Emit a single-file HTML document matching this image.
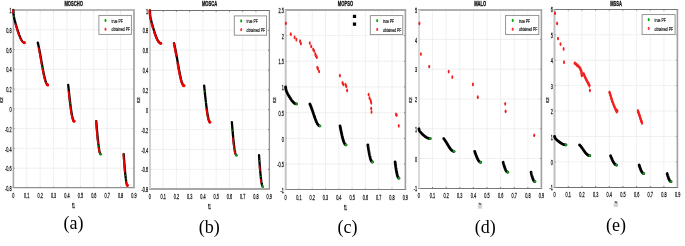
<!DOCTYPE html><html><head><meta charset="utf-8"><style>html,body{margin:0;padding:0;background:#fff;overflow:hidden}svg{display:block;will-change:transform}</style></head><body>
<svg width="685" height="246" viewBox="0 0 685 246">
<rect width="685" height="246" fill="#fff"/>
<path d="M26.76 9.95V188.00M40.16 9.95V188.00M53.57 9.95V188.00M66.97 9.95V188.00M80.38 9.95V188.00M93.78 9.95V188.00M107.19 9.95V188.00M120.59 9.95V188.00M13.35 29.73H134.00M13.35 49.52H134.00M13.35 69.30H134.00M13.35 89.08H134.00M13.35 108.87H134.00M13.35 128.65H134.00M13.35 148.43H134.00M13.35 168.22H134.00" stroke="#ececec" stroke-width="0.8" fill="none"/>
<path d="M26.76 9.95v1.2M26.76 188.00v-1.2M40.16 9.95v1.2M40.16 188.00v-1.2M53.57 9.95v1.2M53.57 188.00v-1.2M66.97 9.95v1.2M66.97 188.00v-1.2M80.38 9.95v1.2M80.38 188.00v-1.2M93.78 9.95v1.2M93.78 188.00v-1.2M107.19 9.95v1.2M107.19 188.00v-1.2M120.59 9.95v1.2M120.59 188.00v-1.2M13.35 29.73h1.2M134.00 29.73h-1.2M13.35 49.52h1.2M134.00 49.52h-1.2M13.35 69.30h1.2M134.00 69.30h-1.2M13.35 89.08h1.2M134.00 89.08h-1.2M13.35 108.87h1.2M134.00 108.87h-1.2M13.35 128.65h1.2M134.00 128.65h-1.2M13.35 148.43h1.2M134.00 148.43h-1.2M13.35 168.22h1.2M134.00 168.22h-1.2" stroke="#333" stroke-width="0.7" fill="none"/>
<path d="M12.60 10.00H135.00" stroke="#b8b8b8" stroke-width="2"/>
<path d="M12.60 187.60H135.00" stroke="#909090" stroke-width="1.3"/>
<path d="M13.40 10.00V187.60" stroke="#a8a8a8" stroke-width="1.6"/>
<path d="M134.00 10.00V187.60" stroke="#b0b0b0" stroke-width="2"/>
<text transform="translate(13.35,198.10) scale(0.51,1)" font-family="Liberation Sans, sans-serif" font-size="7.5" font-weight="normal" text-anchor="middle" fill="#222" stroke="#222" stroke-width="0.3">0</text>
<text transform="translate(26.76,198.10) scale(0.51,1)" font-family="Liberation Sans, sans-serif" font-size="7.5" font-weight="normal" text-anchor="middle" fill="#222" stroke="#222" stroke-width="0.3">0.1</text>
<text transform="translate(40.16,198.10) scale(0.51,1)" font-family="Liberation Sans, sans-serif" font-size="7.5" font-weight="normal" text-anchor="middle" fill="#222" stroke="#222" stroke-width="0.3">0.2</text>
<text transform="translate(53.57,198.10) scale(0.51,1)" font-family="Liberation Sans, sans-serif" font-size="7.5" font-weight="normal" text-anchor="middle" fill="#222" stroke="#222" stroke-width="0.3">0.3</text>
<text transform="translate(66.97,198.10) scale(0.51,1)" font-family="Liberation Sans, sans-serif" font-size="7.5" font-weight="normal" text-anchor="middle" fill="#222" stroke="#222" stroke-width="0.3">0.4</text>
<text transform="translate(80.38,198.10) scale(0.51,1)" font-family="Liberation Sans, sans-serif" font-size="7.5" font-weight="normal" text-anchor="middle" fill="#222" stroke="#222" stroke-width="0.3">0.5</text>
<text transform="translate(93.78,198.10) scale(0.51,1)" font-family="Liberation Sans, sans-serif" font-size="7.5" font-weight="normal" text-anchor="middle" fill="#222" stroke="#222" stroke-width="0.3">0.6</text>
<text transform="translate(107.19,198.10) scale(0.51,1)" font-family="Liberation Sans, sans-serif" font-size="7.5" font-weight="normal" text-anchor="middle" fill="#222" stroke="#222" stroke-width="0.3">0.7</text>
<text transform="translate(120.59,198.10) scale(0.51,1)" font-family="Liberation Sans, sans-serif" font-size="7.5" font-weight="normal" text-anchor="middle" fill="#222" stroke="#222" stroke-width="0.3">0.8</text>
<text transform="translate(134.00,198.10) scale(0.51,1)" font-family="Liberation Sans, sans-serif" font-size="7.5" font-weight="normal" text-anchor="middle" fill="#222" stroke="#222" stroke-width="0.3">0.9</text>
<text transform="translate(11.55,13.05) scale(0.51,1)" font-family="Liberation Sans, sans-serif" font-size="7.5" font-weight="normal" text-anchor="end" fill="#222" stroke="#222" stroke-width="0.3">1</text>
<text transform="translate(11.55,32.83) scale(0.51,1)" font-family="Liberation Sans, sans-serif" font-size="7.5" font-weight="normal" text-anchor="end" fill="#222" stroke="#222" stroke-width="0.3">0.8</text>
<text transform="translate(11.55,52.62) scale(0.51,1)" font-family="Liberation Sans, sans-serif" font-size="7.5" font-weight="normal" text-anchor="end" fill="#222" stroke="#222" stroke-width="0.3">0.6</text>
<text transform="translate(11.55,72.40) scale(0.51,1)" font-family="Liberation Sans, sans-serif" font-size="7.5" font-weight="normal" text-anchor="end" fill="#222" stroke="#222" stroke-width="0.3">0.4</text>
<text transform="translate(11.55,92.18) scale(0.51,1)" font-family="Liberation Sans, sans-serif" font-size="7.5" font-weight="normal" text-anchor="end" fill="#222" stroke="#222" stroke-width="0.3">0.2</text>
<text transform="translate(11.55,111.97) scale(0.51,1)" font-family="Liberation Sans, sans-serif" font-size="7.5" font-weight="normal" text-anchor="end" fill="#222" stroke="#222" stroke-width="0.3">0</text>
<text transform="translate(11.55,131.75) scale(0.51,1)" font-family="Liberation Sans, sans-serif" font-size="7.5" font-weight="normal" text-anchor="end" fill="#222" stroke="#222" stroke-width="0.3">-0.2</text>
<text transform="translate(11.55,151.53) scale(0.51,1)" font-family="Liberation Sans, sans-serif" font-size="7.5" font-weight="normal" text-anchor="end" fill="#222" stroke="#222" stroke-width="0.3">-0.4</text>
<text transform="translate(11.55,171.32) scale(0.51,1)" font-family="Liberation Sans, sans-serif" font-size="7.5" font-weight="normal" text-anchor="end" fill="#222" stroke="#222" stroke-width="0.3">-0.6</text>
<text transform="translate(11.55,191.10) scale(0.51,1)" font-family="Liberation Sans, sans-serif" font-size="7.5" font-weight="normal" text-anchor="end" fill="#222" stroke="#222" stroke-width="0.3">-0.8</text>
<text transform="translate(73.67,5.90) scale(0.54,1)" font-family="Liberation Sans, sans-serif" font-size="7.6" font-weight="bold" text-anchor="middle" fill="#111" stroke="#111" stroke-width="0.35">MOSCHO</text>
<text transform="translate(73.40,207.90) scale(0.42,1)" font-family="Liberation Sans, sans-serif" font-size="7.8" font-weight="normal" text-anchor="middle" fill="#222" stroke="#222" stroke-width="0.4">f1</text>
<text transform="translate(3.20,100.00) rotate(-90) scale(1,0.62)" font-family="Liberation Sans, sans-serif" font-size="7.0" font-weight="normal" text-anchor="middle" fill="#333" stroke="#333" stroke-width="0.35">f2</text>
<path d="M163.16 10.45V189.20M176.41 10.45V189.20M189.67 10.45V189.20M202.92 10.45V189.20M216.18 10.45V189.20M229.43 10.45V189.20M242.69 10.45V189.20M255.94 10.45V189.20M149.90 30.31H269.20M149.90 50.17H269.20M149.90 70.03H269.20M149.90 89.89H269.20M149.90 109.76H269.20M149.90 129.62H269.20M149.90 149.48H269.20M149.90 169.34H269.20" stroke="#ececec" stroke-width="0.8" fill="none"/>
<path d="M163.16 10.45v1.2M163.16 189.20v-1.2M176.41 10.45v1.2M176.41 189.20v-1.2M189.67 10.45v1.2M189.67 189.20v-1.2M202.92 10.45v1.2M202.92 189.20v-1.2M216.18 10.45v1.2M216.18 189.20v-1.2M229.43 10.45v1.2M229.43 189.20v-1.2M242.69 10.45v1.2M242.69 189.20v-1.2M255.94 10.45v1.2M255.94 189.20v-1.2M149.90 30.31h1.2M269.20 30.31h-1.2M149.90 50.17h1.2M269.20 50.17h-1.2M149.90 70.03h1.2M269.20 70.03h-1.2M149.90 89.89h1.2M269.20 89.89h-1.2M149.90 109.76h1.2M269.20 109.76h-1.2M149.90 129.62h1.2M269.20 129.62h-1.2M149.90 149.48h1.2M269.20 149.48h-1.2M149.90 169.34h1.2M269.20 169.34h-1.2" stroke="#333" stroke-width="0.7" fill="none"/>
<path d="M149.00 10.50H270.05" stroke="#707070" stroke-width="1"/>
<path d="M149.00 189.00H270.05" stroke="#a8a8a8" stroke-width="2"/>
<path d="M150.00 10.50V189.00" stroke="#d0d0d0" stroke-width="2"/>
<path d="M269.40 10.50V189.00" stroke="#909090" stroke-width="1.3"/>
<text transform="translate(149.90,199.30) scale(0.51,1)" font-family="Liberation Sans, sans-serif" font-size="7.5" font-weight="normal" text-anchor="middle" fill="#222" stroke="#222" stroke-width="0.3">0</text>
<text transform="translate(163.16,199.30) scale(0.51,1)" font-family="Liberation Sans, sans-serif" font-size="7.5" font-weight="normal" text-anchor="middle" fill="#222" stroke="#222" stroke-width="0.3">0.1</text>
<text transform="translate(176.41,199.30) scale(0.51,1)" font-family="Liberation Sans, sans-serif" font-size="7.5" font-weight="normal" text-anchor="middle" fill="#222" stroke="#222" stroke-width="0.3">0.2</text>
<text transform="translate(189.67,199.30) scale(0.51,1)" font-family="Liberation Sans, sans-serif" font-size="7.5" font-weight="normal" text-anchor="middle" fill="#222" stroke="#222" stroke-width="0.3">0.3</text>
<text transform="translate(202.92,199.30) scale(0.51,1)" font-family="Liberation Sans, sans-serif" font-size="7.5" font-weight="normal" text-anchor="middle" fill="#222" stroke="#222" stroke-width="0.3">0.4</text>
<text transform="translate(216.18,199.30) scale(0.51,1)" font-family="Liberation Sans, sans-serif" font-size="7.5" font-weight="normal" text-anchor="middle" fill="#222" stroke="#222" stroke-width="0.3">0.5</text>
<text transform="translate(229.43,199.30) scale(0.51,1)" font-family="Liberation Sans, sans-serif" font-size="7.5" font-weight="normal" text-anchor="middle" fill="#222" stroke="#222" stroke-width="0.3">0.6</text>
<text transform="translate(242.69,199.30) scale(0.51,1)" font-family="Liberation Sans, sans-serif" font-size="7.5" font-weight="normal" text-anchor="middle" fill="#222" stroke="#222" stroke-width="0.3">0.7</text>
<text transform="translate(255.94,199.30) scale(0.51,1)" font-family="Liberation Sans, sans-serif" font-size="7.5" font-weight="normal" text-anchor="middle" fill="#222" stroke="#222" stroke-width="0.3">0.8</text>
<text transform="translate(269.20,199.30) scale(0.51,1)" font-family="Liberation Sans, sans-serif" font-size="7.5" font-weight="normal" text-anchor="middle" fill="#222" stroke="#222" stroke-width="0.3">0.9</text>
<text transform="translate(148.10,13.55) scale(0.51,1)" font-family="Liberation Sans, sans-serif" font-size="7.5" font-weight="normal" text-anchor="end" fill="#222" stroke="#222" stroke-width="0.3">1</text>
<text transform="translate(148.10,33.41) scale(0.51,1)" font-family="Liberation Sans, sans-serif" font-size="7.5" font-weight="normal" text-anchor="end" fill="#222" stroke="#222" stroke-width="0.3">0.8</text>
<text transform="translate(148.10,53.27) scale(0.51,1)" font-family="Liberation Sans, sans-serif" font-size="7.5" font-weight="normal" text-anchor="end" fill="#222" stroke="#222" stroke-width="0.3">0.6</text>
<text transform="translate(148.10,73.13) scale(0.51,1)" font-family="Liberation Sans, sans-serif" font-size="7.5" font-weight="normal" text-anchor="end" fill="#222" stroke="#222" stroke-width="0.3">0.4</text>
<text transform="translate(148.10,92.99) scale(0.51,1)" font-family="Liberation Sans, sans-serif" font-size="7.5" font-weight="normal" text-anchor="end" fill="#222" stroke="#222" stroke-width="0.3">0.2</text>
<text transform="translate(148.10,112.86) scale(0.51,1)" font-family="Liberation Sans, sans-serif" font-size="7.5" font-weight="normal" text-anchor="end" fill="#222" stroke="#222" stroke-width="0.3">0</text>
<text transform="translate(148.10,132.72) scale(0.51,1)" font-family="Liberation Sans, sans-serif" font-size="7.5" font-weight="normal" text-anchor="end" fill="#222" stroke="#222" stroke-width="0.3">-0.2</text>
<text transform="translate(148.10,152.58) scale(0.51,1)" font-family="Liberation Sans, sans-serif" font-size="7.5" font-weight="normal" text-anchor="end" fill="#222" stroke="#222" stroke-width="0.3">-0.4</text>
<text transform="translate(148.10,172.44) scale(0.51,1)" font-family="Liberation Sans, sans-serif" font-size="7.5" font-weight="normal" text-anchor="end" fill="#222" stroke="#222" stroke-width="0.3">-0.6</text>
<text transform="translate(148.10,192.30) scale(0.51,1)" font-family="Liberation Sans, sans-serif" font-size="7.5" font-weight="normal" text-anchor="end" fill="#222" stroke="#222" stroke-width="0.3">-0.8</text>
<text transform="translate(209.55,5.90) scale(0.54,1)" font-family="Liberation Sans, sans-serif" font-size="7.6" font-weight="bold" text-anchor="middle" fill="#111" stroke="#111" stroke-width="0.35">MOSCA</text>
<text transform="translate(209.40,209.00) scale(0.42,1)" font-family="Liberation Sans, sans-serif" font-size="7.8" font-weight="normal" text-anchor="middle" fill="#222" stroke="#222" stroke-width="0.4">f1</text>
<text transform="translate(139.90,100.00) rotate(-90) scale(1,0.62)" font-family="Liberation Sans, sans-serif" font-size="7.0" font-weight="normal" text-anchor="middle" fill="#333" stroke="#333" stroke-width="0.35">f2</text>
<path d="M298.90 9.80V189.85M312.20 9.80V189.85M325.50 9.80V189.85M338.80 9.80V189.85M352.10 9.80V189.85M365.40 9.80V189.85M378.70 9.80V189.85M392.00 9.80V189.85M285.60 35.52H405.30M285.60 61.24H405.30M285.60 86.96H405.30M285.60 112.69H405.30M285.60 138.41H405.30M285.60 164.13H405.30" stroke="#ececec" stroke-width="0.8" fill="none"/>
<path d="M298.90 9.80v1.2M298.90 189.85v-1.2M312.20 9.80v1.2M312.20 189.85v-1.2M325.50 9.80v1.2M325.50 189.85v-1.2M338.80 9.80v1.2M338.80 189.85v-1.2M352.10 9.80v1.2M352.10 189.85v-1.2M365.40 9.80v1.2M365.40 189.85v-1.2M378.70 9.80v1.2M378.70 189.85v-1.2M392.00 9.80v1.2M392.00 189.85v-1.2M285.60 35.52h1.2M405.30 35.52h-1.2M285.60 61.24h1.2M405.30 61.24h-1.2M285.60 86.96h1.2M405.30 86.96h-1.2M285.60 112.69h1.2M405.30 112.69h-1.2M285.60 138.41h1.2M405.30 138.41h-1.2M285.60 164.13h1.2M405.30 164.13h-1.2" stroke="#333" stroke-width="0.7" fill="none"/>
<path d="M284.70 10.00H406.20" stroke="#a8a8a8" stroke-width="2"/>
<path d="M284.70 189.50H406.20" stroke="#808080" stroke-width="1"/>
<path d="M285.70 10.00V189.50" stroke="#c4c4c4" stroke-width="2"/>
<path d="M405.40 10.00V189.50" stroke="#a0a0a0" stroke-width="1.6"/>
<text transform="translate(285.60,199.95) scale(0.51,1)" font-family="Liberation Sans, sans-serif" font-size="7.5" font-weight="normal" text-anchor="middle" fill="#222" stroke="#222" stroke-width="0.3">0</text>
<text transform="translate(298.90,199.95) scale(0.51,1)" font-family="Liberation Sans, sans-serif" font-size="7.5" font-weight="normal" text-anchor="middle" fill="#222" stroke="#222" stroke-width="0.3">0.1</text>
<text transform="translate(312.20,199.95) scale(0.51,1)" font-family="Liberation Sans, sans-serif" font-size="7.5" font-weight="normal" text-anchor="middle" fill="#222" stroke="#222" stroke-width="0.3">0.2</text>
<text transform="translate(325.50,199.95) scale(0.51,1)" font-family="Liberation Sans, sans-serif" font-size="7.5" font-weight="normal" text-anchor="middle" fill="#222" stroke="#222" stroke-width="0.3">0.3</text>
<text transform="translate(338.80,199.95) scale(0.51,1)" font-family="Liberation Sans, sans-serif" font-size="7.5" font-weight="normal" text-anchor="middle" fill="#222" stroke="#222" stroke-width="0.3">0.4</text>
<text transform="translate(352.10,199.95) scale(0.51,1)" font-family="Liberation Sans, sans-serif" font-size="7.5" font-weight="normal" text-anchor="middle" fill="#222" stroke="#222" stroke-width="0.3">0.5</text>
<text transform="translate(365.40,199.95) scale(0.51,1)" font-family="Liberation Sans, sans-serif" font-size="7.5" font-weight="normal" text-anchor="middle" fill="#222" stroke="#222" stroke-width="0.3">0.6</text>
<text transform="translate(378.70,199.95) scale(0.51,1)" font-family="Liberation Sans, sans-serif" font-size="7.5" font-weight="normal" text-anchor="middle" fill="#222" stroke="#222" stroke-width="0.3">0.7</text>
<text transform="translate(392.00,199.95) scale(0.51,1)" font-family="Liberation Sans, sans-serif" font-size="7.5" font-weight="normal" text-anchor="middle" fill="#222" stroke="#222" stroke-width="0.3">0.8</text>
<text transform="translate(405.30,199.95) scale(0.51,1)" font-family="Liberation Sans, sans-serif" font-size="7.5" font-weight="normal" text-anchor="middle" fill="#222" stroke="#222" stroke-width="0.3">0.9</text>
<text transform="translate(283.80,12.90) scale(0.51,1)" font-family="Liberation Sans, sans-serif" font-size="7.5" font-weight="normal" text-anchor="end" fill="#222" stroke="#222" stroke-width="0.3">2.5</text>
<text transform="translate(283.80,38.62) scale(0.51,1)" font-family="Liberation Sans, sans-serif" font-size="7.5" font-weight="normal" text-anchor="end" fill="#222" stroke="#222" stroke-width="0.3">2</text>
<text transform="translate(283.80,64.34) scale(0.51,1)" font-family="Liberation Sans, sans-serif" font-size="7.5" font-weight="normal" text-anchor="end" fill="#222" stroke="#222" stroke-width="0.3">1.5</text>
<text transform="translate(283.80,90.06) scale(0.51,1)" font-family="Liberation Sans, sans-serif" font-size="7.5" font-weight="normal" text-anchor="end" fill="#222" stroke="#222" stroke-width="0.3">1</text>
<text transform="translate(283.80,115.79) scale(0.51,1)" font-family="Liberation Sans, sans-serif" font-size="7.5" font-weight="normal" text-anchor="end" fill="#222" stroke="#222" stroke-width="0.3">0.5</text>
<text transform="translate(283.80,141.51) scale(0.51,1)" font-family="Liberation Sans, sans-serif" font-size="7.5" font-weight="normal" text-anchor="end" fill="#222" stroke="#222" stroke-width="0.3">0</text>
<text transform="translate(283.80,167.23) scale(0.51,1)" font-family="Liberation Sans, sans-serif" font-size="7.5" font-weight="normal" text-anchor="end" fill="#222" stroke="#222" stroke-width="0.3">-0.5</text>
<text transform="translate(283.80,192.95) scale(0.51,1)" font-family="Liberation Sans, sans-serif" font-size="7.5" font-weight="normal" text-anchor="end" fill="#222" stroke="#222" stroke-width="0.3">-1</text>
<text transform="translate(345.45,5.90) scale(0.54,1)" font-family="Liberation Sans, sans-serif" font-size="7.6" font-weight="bold" text-anchor="middle" fill="#111" stroke="#111" stroke-width="0.35">MOPSO</text>
<text transform="translate(345.40,209.90) scale(0.42,1)" font-family="Liberation Sans, sans-serif" font-size="7.8" font-weight="normal" text-anchor="middle" fill="#222" stroke="#222" stroke-width="0.4">f1</text>
<text transform="translate(276.30,100.00) rotate(-90) scale(1,0.62)" font-family="Liberation Sans, sans-serif" font-size="7.0" font-weight="normal" text-anchor="middle" fill="#333" stroke="#333" stroke-width="0.35">f2</text>
<path d="M432.52 9.70V188.30M446.14 9.70V188.30M459.77 9.70V188.30M473.39 9.70V188.30M487.01 9.70V188.30M500.63 9.70V188.30M514.26 9.70V188.30M527.88 9.70V188.30M418.90 39.47H541.50M418.90 69.23H541.50M418.90 99.00H541.50M418.90 128.77H541.50M418.90 158.53H541.50" stroke="#ececec" stroke-width="0.8" fill="none"/>
<path d="M432.52 9.70v1.2M432.52 188.30v-1.2M446.14 9.70v1.2M446.14 188.30v-1.2M459.77 9.70v1.2M459.77 188.30v-1.2M473.39 9.70v1.2M473.39 188.30v-1.2M487.01 9.70v1.2M487.01 188.30v-1.2M500.63 9.70v1.2M500.63 188.30v-1.2M514.26 9.70v1.2M514.26 188.30v-1.2M527.88 9.70v1.2M527.88 188.30v-1.2M418.90 39.47h1.2M541.50 39.47h-1.2M418.90 69.23h1.2M541.50 69.23h-1.2M418.90 99.00h1.2M541.50 99.00h-1.2M418.90 128.77h1.2M541.50 128.77h-1.2M418.90 158.53h1.2M541.50 158.53h-1.2" stroke="#333" stroke-width="0.7" fill="none"/>
<path d="M418.00 10.00H542.20" stroke="#b0b0b0" stroke-width="2"/>
<path d="M418.00 188.50H542.20" stroke="#787878" stroke-width="1"/>
<path d="M419.00 10.00V188.50" stroke="#dadada" stroke-width="2"/>
<path d="M541.40 10.00V188.50" stroke="#a0a0a0" stroke-width="1.6"/>
<text transform="translate(418.90,198.40) scale(0.51,1)" font-family="Liberation Sans, sans-serif" font-size="7.5" font-weight="normal" text-anchor="middle" fill="#222" stroke="#222" stroke-width="0.3">0</text>
<text transform="translate(432.52,198.40) scale(0.51,1)" font-family="Liberation Sans, sans-serif" font-size="7.5" font-weight="normal" text-anchor="middle" fill="#222" stroke="#222" stroke-width="0.3">0.1</text>
<text transform="translate(446.14,198.40) scale(0.51,1)" font-family="Liberation Sans, sans-serif" font-size="7.5" font-weight="normal" text-anchor="middle" fill="#222" stroke="#222" stroke-width="0.3">0.2</text>
<text transform="translate(459.77,198.40) scale(0.51,1)" font-family="Liberation Sans, sans-serif" font-size="7.5" font-weight="normal" text-anchor="middle" fill="#222" stroke="#222" stroke-width="0.3">0.3</text>
<text transform="translate(473.39,198.40) scale(0.51,1)" font-family="Liberation Sans, sans-serif" font-size="7.5" font-weight="normal" text-anchor="middle" fill="#222" stroke="#222" stroke-width="0.3">0.4</text>
<text transform="translate(487.01,198.40) scale(0.51,1)" font-family="Liberation Sans, sans-serif" font-size="7.5" font-weight="normal" text-anchor="middle" fill="#222" stroke="#222" stroke-width="0.3">0.5</text>
<text transform="translate(500.63,198.40) scale(0.51,1)" font-family="Liberation Sans, sans-serif" font-size="7.5" font-weight="normal" text-anchor="middle" fill="#222" stroke="#222" stroke-width="0.3">0.6</text>
<text transform="translate(514.26,198.40) scale(0.51,1)" font-family="Liberation Sans, sans-serif" font-size="7.5" font-weight="normal" text-anchor="middle" fill="#222" stroke="#222" stroke-width="0.3">0.7</text>
<text transform="translate(527.88,198.40) scale(0.51,1)" font-family="Liberation Sans, sans-serif" font-size="7.5" font-weight="normal" text-anchor="middle" fill="#222" stroke="#222" stroke-width="0.3">0.8</text>
<text transform="translate(541.50,198.40) scale(0.51,1)" font-family="Liberation Sans, sans-serif" font-size="7.5" font-weight="normal" text-anchor="middle" fill="#222" stroke="#222" stroke-width="0.3">0.9</text>
<text transform="translate(417.10,12.80) scale(0.51,1)" font-family="Liberation Sans, sans-serif" font-size="7.5" font-weight="normal" text-anchor="end" fill="#222" stroke="#222" stroke-width="0.3">5</text>
<text transform="translate(417.10,42.57) scale(0.51,1)" font-family="Liberation Sans, sans-serif" font-size="7.5" font-weight="normal" text-anchor="end" fill="#222" stroke="#222" stroke-width="0.3">4</text>
<text transform="translate(417.10,72.33) scale(0.51,1)" font-family="Liberation Sans, sans-serif" font-size="7.5" font-weight="normal" text-anchor="end" fill="#222" stroke="#222" stroke-width="0.3">3</text>
<text transform="translate(417.10,102.10) scale(0.51,1)" font-family="Liberation Sans, sans-serif" font-size="7.5" font-weight="normal" text-anchor="end" fill="#222" stroke="#222" stroke-width="0.3">2</text>
<text transform="translate(417.10,131.87) scale(0.51,1)" font-family="Liberation Sans, sans-serif" font-size="7.5" font-weight="normal" text-anchor="end" fill="#222" stroke="#222" stroke-width="0.3">1</text>
<text transform="translate(417.10,161.63) scale(0.51,1)" font-family="Liberation Sans, sans-serif" font-size="7.5" font-weight="normal" text-anchor="end" fill="#222" stroke="#222" stroke-width="0.3">0</text>
<text transform="translate(417.10,191.40) scale(0.51,1)" font-family="Liberation Sans, sans-serif" font-size="7.5" font-weight="normal" text-anchor="end" fill="#222" stroke="#222" stroke-width="0.3">-1</text>
<text transform="translate(480.20,5.90) scale(0.54,1)" font-family="Liberation Sans, sans-serif" font-size="7.6" font-weight="bold" text-anchor="middle" fill="#111" stroke="#111" stroke-width="0.35">MALO</text>
<rect x="477.90" y="202.80" width="4.2" height="5.9" fill="#d2d2d2"/>
<ellipse cx="480.00" cy="203.80" rx="1.3" ry="0.8" transform="rotate(35 480.00 203.80)" fill="#555"/>
<text transform="translate(412.10,100.00) rotate(-90) scale(1,0.62)" font-family="Liberation Sans, sans-serif" font-size="7.0" font-weight="normal" text-anchor="middle" fill="#333" stroke="#333" stroke-width="0.35">f2</text>
<path d="M568.27 9.35V187.30M581.93 9.35V187.30M595.60 9.35V187.30M609.27 9.35V187.30M622.93 9.35V187.30M636.60 9.35V187.30M650.27 9.35V187.30M663.93 9.35V187.30M554.60 34.77H677.60M554.60 60.19H677.60M554.60 85.61H677.60M554.60 111.04H677.60M554.60 136.46H677.60M554.60 161.88H677.60" stroke="#ececec" stroke-width="0.8" fill="none"/>
<path d="M568.27 9.35v1.2M568.27 187.30v-1.2M581.93 9.35v1.2M581.93 187.30v-1.2M595.60 9.35v1.2M595.60 187.30v-1.2M609.27 9.35v1.2M609.27 187.30v-1.2M622.93 9.35v1.2M622.93 187.30v-1.2M636.60 9.35v1.2M636.60 187.30v-1.2M650.27 9.35v1.2M650.27 187.30v-1.2M663.93 9.35v1.2M663.93 187.30v-1.2M554.60 34.77h1.2M677.60 34.77h-1.2M554.60 60.19h1.2M677.60 60.19h-1.2M554.60 85.61h1.2M677.60 85.61h-1.2M554.60 111.04h1.2M677.60 111.04h-1.2M554.60 136.46h1.2M677.60 136.46h-1.2M554.60 161.88h1.2M677.60 161.88h-1.2" stroke="#333" stroke-width="0.7" fill="none"/>
<path d="M553.50 9.50H678.20" stroke="#787878" stroke-width="1"/>
<path d="M553.50 187.50H678.20" stroke="#707070" stroke-width="1"/>
<path d="M554.50 9.50V187.50" stroke="#c0c0c0" stroke-width="2"/>
<path d="M677.40 9.50V187.50" stroke="#a0a0a0" stroke-width="1.6"/>
<text transform="translate(554.60,197.40) scale(0.51,1)" font-family="Liberation Sans, sans-serif" font-size="7.5" font-weight="normal" text-anchor="middle" fill="#222" stroke="#222" stroke-width="0.3">0</text>
<text transform="translate(568.27,197.40) scale(0.51,1)" font-family="Liberation Sans, sans-serif" font-size="7.5" font-weight="normal" text-anchor="middle" fill="#222" stroke="#222" stroke-width="0.3">0.1</text>
<text transform="translate(581.93,197.40) scale(0.51,1)" font-family="Liberation Sans, sans-serif" font-size="7.5" font-weight="normal" text-anchor="middle" fill="#222" stroke="#222" stroke-width="0.3">0.2</text>
<text transform="translate(595.60,197.40) scale(0.51,1)" font-family="Liberation Sans, sans-serif" font-size="7.5" font-weight="normal" text-anchor="middle" fill="#222" stroke="#222" stroke-width="0.3">0.3</text>
<text transform="translate(609.27,197.40) scale(0.51,1)" font-family="Liberation Sans, sans-serif" font-size="7.5" font-weight="normal" text-anchor="middle" fill="#222" stroke="#222" stroke-width="0.3">0.4</text>
<text transform="translate(622.93,197.40) scale(0.51,1)" font-family="Liberation Sans, sans-serif" font-size="7.5" font-weight="normal" text-anchor="middle" fill="#222" stroke="#222" stroke-width="0.3">0.5</text>
<text transform="translate(636.60,197.40) scale(0.51,1)" font-family="Liberation Sans, sans-serif" font-size="7.5" font-weight="normal" text-anchor="middle" fill="#222" stroke="#222" stroke-width="0.3">0.6</text>
<text transform="translate(650.27,197.40) scale(0.51,1)" font-family="Liberation Sans, sans-serif" font-size="7.5" font-weight="normal" text-anchor="middle" fill="#222" stroke="#222" stroke-width="0.3">0.7</text>
<text transform="translate(663.93,197.40) scale(0.51,1)" font-family="Liberation Sans, sans-serif" font-size="7.5" font-weight="normal" text-anchor="middle" fill="#222" stroke="#222" stroke-width="0.3">0.8</text>
<text transform="translate(677.60,197.40) scale(0.51,1)" font-family="Liberation Sans, sans-serif" font-size="7.5" font-weight="normal" text-anchor="middle" fill="#222" stroke="#222" stroke-width="0.3">0.9</text>
<text transform="translate(552.80,12.45) scale(0.51,1)" font-family="Liberation Sans, sans-serif" font-size="7.5" font-weight="normal" text-anchor="end" fill="#222" stroke="#222" stroke-width="0.3">6</text>
<text transform="translate(552.80,37.87) scale(0.51,1)" font-family="Liberation Sans, sans-serif" font-size="7.5" font-weight="normal" text-anchor="end" fill="#222" stroke="#222" stroke-width="0.3">5</text>
<text transform="translate(552.80,63.29) scale(0.51,1)" font-family="Liberation Sans, sans-serif" font-size="7.5" font-weight="normal" text-anchor="end" fill="#222" stroke="#222" stroke-width="0.3">4</text>
<text transform="translate(552.80,88.71) scale(0.51,1)" font-family="Liberation Sans, sans-serif" font-size="7.5" font-weight="normal" text-anchor="end" fill="#222" stroke="#222" stroke-width="0.3">3</text>
<text transform="translate(552.80,114.14) scale(0.51,1)" font-family="Liberation Sans, sans-serif" font-size="7.5" font-weight="normal" text-anchor="end" fill="#222" stroke="#222" stroke-width="0.3">2</text>
<text transform="translate(552.80,139.56) scale(0.51,1)" font-family="Liberation Sans, sans-serif" font-size="7.5" font-weight="normal" text-anchor="end" fill="#222" stroke="#222" stroke-width="0.3">1</text>
<text transform="translate(552.80,164.98) scale(0.51,1)" font-family="Liberation Sans, sans-serif" font-size="7.5" font-weight="normal" text-anchor="end" fill="#222" stroke="#222" stroke-width="0.3">0</text>
<text transform="translate(552.80,190.40) scale(0.51,1)" font-family="Liberation Sans, sans-serif" font-size="7.5" font-weight="normal" text-anchor="end" fill="#222" stroke="#222" stroke-width="0.3">-1</text>
<text transform="translate(616.10,5.90) scale(0.54,1)" font-family="Liberation Sans, sans-serif" font-size="7.6" font-weight="bold" text-anchor="middle" fill="#111" stroke="#111" stroke-width="0.35">MSSA</text>
<rect x="613.80" y="201.20" width="4.2" height="5.9" fill="#d2d2d2"/>
<ellipse cx="615.90" cy="202.20" rx="1.3" ry="0.8" transform="rotate(35 615.90 202.20)" fill="#555"/>
<text transform="translate(548.50,100.00) rotate(-90) scale(1,0.62)" font-family="Liberation Sans, sans-serif" font-size="7.0" font-weight="normal" text-anchor="middle" fill="#333" stroke="#333" stroke-width="0.35">f2</text>
<path d="M13.35 9.95 L13.54 13.64 L13.72 15.18 L13.91 16.38 L14.09 17.40 L14.28 18.32 L14.46 19.17 L14.65 19.97 L14.83 20.73 L15.02 21.46 L15.20 22.16 L15.39 22.84 L15.58 23.51 L15.76 24.17 L15.95 24.81 L16.13 25.44 L16.32 26.07 L16.50 26.69 L16.69 27.30 L16.87 27.90 L17.06 28.49 L17.24 29.08 L17.43 29.67 L17.62 30.24 L17.80 30.81 L17.99 31.37 L18.17 31.93 L18.36 32.47 L18.54 33.01 L18.73 33.54 L18.91 34.06 L19.10 34.57 L19.28 35.07 L19.47 35.56 L19.66 36.03 L19.84 36.50 L20.03 36.95 L20.21 37.39 L20.40 37.81 L20.58 38.22 L20.77 38.62 L20.95 38.99 L21.14 39.36 L21.32 39.70 L21.51 40.03 L21.70 40.34 L21.88 40.63 L22.07 40.90 L22.25 41.15 L22.44 41.39 L22.62 41.60 L22.81 41.80 L22.99 41.97 L23.18 42.13 L23.36 42.26 L23.55 42.37 L23.74 42.46 L23.92 42.54 L24.11 42.59 L24.29 42.62 L24.48 42.63" stroke="#000" stroke-width="2.3" fill="none" stroke-linecap="round"/>
<path d="M13.05 9.95 L13.05 10.52 L13.06 10.76 L13.06 10.94 L13.07 11.09 L13.07 11.22 L13.08 11.35 L13.08 11.46 L13.09 11.56 L13.09 11.66 L13.09 11.75 L13.10 11.84 L13.10 11.92 L13.11 12.01 L13.11 12.08 L13.12 12.16 L13.12 12.23 L13.13 12.30 L13.13 12.37 L13.13 12.44 L13.14 12.50" stroke="#ee0000" stroke-width="1.8" fill="none" stroke-linecap="round"/>
<path d="M15.50 24.30 L15.68 24.93 L15.87 25.56 L16.05 26.17 L16.23 26.78 L16.42 27.39 L16.60 27.98 L16.78 28.57 L16.97 29.15 L17.15 29.73 L17.33 30.30 L17.52 30.86 L17.70 31.42 L17.88 31.97 L18.07 32.51 L18.25 33.04 L18.44 33.56 L18.62 34.08 L18.80 34.58 L18.99 35.07 L19.17 35.56" stroke="#ee0000" stroke-width="1.8" fill="none" stroke-linecap="round"/>
<path d="M19.95 37.47 L20.16 37.95 L20.37 38.41 L20.58 38.85 L20.79 39.27 L21.01 39.67 L21.22 40.04 L21.43 40.39 L21.64 40.72 L21.85 41.02 L22.06 41.30 L22.27 41.55 L22.49 41.78 L22.70 41.98 L22.91 42.15 L23.12 42.30 L23.33 42.42 L23.54 42.51 L23.75 42.57 L23.97 42.61 L24.18 42.63" stroke="#ee0000" stroke-width="1.8" fill="none" stroke-linecap="round"/>
<circle cx="13.91" cy="16.38" r="0.8" fill="#0c8c0c"/>
<ellipse cx="24.28" cy="42.63" rx="1.5" ry="1.6" fill="#ee0000"/>
<path d="M37.78 42.63 L37.95 43.32 L38.12 44.04 L38.29 44.78 L38.45 45.54 L38.62 46.32 L38.79 47.12 L38.96 47.94 L39.13 48.77 L39.30 49.62 L39.47 50.49 L39.64 51.37 L39.80 52.26 L39.97 53.16 L40.14 54.08 L40.31 55.00 L40.48 55.94 L40.65 56.88 L40.82 57.82 L40.99 58.78 L41.15 59.73 L41.32 60.68 L41.49 61.64 L41.66 62.60 L41.83 63.55 L42.00 64.50 L42.17 65.44 L42.34 66.38 L42.50 67.31 L42.67 68.23 L42.84 69.13 L43.01 70.03 L43.18 70.91 L43.35 71.78 L43.52 72.63 L43.69 73.46 L43.85 74.27 L44.02 75.07 L44.19 75.83 L44.36 76.58 L44.53 77.30 L44.70 78.00 L44.87 78.67 L45.04 79.31 L45.20 79.92 L45.37 80.50 L45.54 81.05 L45.71 81.56 L45.88 82.04 L46.05 82.49 L46.22 82.90 L46.39 83.28 L46.55 83.62 L46.72 83.92 L46.89 84.18 L47.06 84.40 L47.23 84.58 L47.40 84.73 L47.57 84.83 L47.74 84.89 L47.90 84.91" stroke="#000" stroke-width="2.3" fill="none" stroke-linecap="round"/>
<path d="M38.69 48.10 L38.85 48.85 L39.00 49.62 L39.15 50.40 L39.30 51.19 L39.45 51.99 L39.61 52.80 L39.76 53.62 L39.91 54.45 L40.06 55.28 L40.21 56.13 L40.36 56.97 L40.52 57.82 L40.67 58.68 L40.82 59.54 L40.97 60.40 L41.12 61.26 L41.28 62.12 L41.43 62.98 L41.58 63.83 L41.73 64.69" stroke="#ee0000" stroke-width="1.8" fill="none" stroke-linecap="round"/>
<path d="M42.54 69.13 L42.67 69.81 L42.79 70.47 L42.92 71.13 L43.05 71.78 L43.17 72.42 L43.30 73.05 L43.43 73.67 L43.55 74.27 L43.68 74.87 L43.81 75.45 L43.93 76.02 L44.06 76.58 L44.19 77.12 L44.31 77.65 L44.44 78.17 L44.57 78.67 L44.69 79.15 L44.82 79.62 L44.95 80.07 L45.07 80.50" stroke="#ee0000" stroke-width="1.8" fill="none" stroke-linecap="round"/>
<path d="M45.78 82.58 L45.87 82.80 L45.96 83.01 L46.06 83.21 L46.15 83.40 L46.24 83.58 L46.33 83.75 L46.42 83.91 L46.51 84.06 L46.60 84.19 L46.69 84.32 L46.78 84.43 L46.88 84.53 L46.97 84.62 L47.06 84.70 L47.15 84.76 L47.24 84.82 L47.33 84.86 L47.42 84.89 L47.51 84.91 L47.60 84.91" stroke="#ee0000" stroke-width="1.8" fill="none" stroke-linecap="round"/>
<circle cx="42.54" cy="67.49" r="0.8" fill="#0c8c0c"/>
<ellipse cx="47.70" cy="84.91" rx="1.5" ry="1.6" fill="#ee0000"/>
<path d="M68.22 84.91 L68.32 85.89 L68.42 86.87 L68.52 87.85 L68.62 88.82 L68.72 89.78 L68.82 90.74 L68.92 91.69 L69.02 92.63 L69.12 93.57 L69.22 94.50 L69.32 95.42 L69.42 96.34 L69.52 97.24 L69.61 98.13 L69.71 99.02 L69.81 99.89 L69.91 100.75 L70.01 101.60 L70.11 102.43 L70.21 103.26 L70.31 104.07 L70.41 104.86 L70.51 105.65 L70.61 106.41 L70.71 107.17 L70.81 107.90 L70.91 108.63 L71.01 109.33 L71.11 110.02 L71.21 110.69 L71.31 111.34 L71.41 111.98 L71.51 112.59 L71.61 113.19 L71.71 113.77 L71.81 114.33 L71.91 114.87 L72.00 115.39 L72.10 115.89 L72.20 116.36 L72.30 116.82 L72.40 117.25 L72.50 117.67 L72.60 118.06 L72.70 118.43 L72.80 118.77 L72.90 119.10 L73.00 119.40 L73.10 119.68 L73.20 119.93 L73.30 120.16 L73.40 120.37 L73.50 120.55 L73.60 120.71 L73.70 120.85 L73.80 120.96 L73.90 121.04 L74.00 121.10 L74.10 121.14 L74.20 121.15" stroke="#000" stroke-width="2.3" fill="none" stroke-linecap="round"/>
<path d="M68.64 91.88 L68.69 92.39 L68.75 92.90 L68.80 93.40 L68.85 93.91 L68.91 94.41 L68.96 94.91 L69.01 95.40 L69.07 95.90 L69.12 96.39 L69.18 96.88 L69.23 97.36 L69.28 97.85 L69.34 98.33 L69.39 98.80 L69.44 99.28 L69.50 99.75 L69.55 100.22 L69.61 100.68 L69.66 101.14 L69.71 101.60" stroke="#ee0000" stroke-width="1.8" fill="none" stroke-linecap="round"/>
<path d="M70.31 106.41 L70.49 107.76 L70.67 109.05 L70.85 110.29 L71.03 111.47 L71.21 112.59 L71.39 113.66 L71.57 114.65 L71.74 115.59 L71.92 116.46 L72.10 117.25 L72.28 117.98 L72.46 118.64 L72.64 119.22 L72.82 119.73 L73.00 120.16 L73.18 120.52 L73.36 120.80 L73.54 120.99 L73.72 121.11 L73.90 121.15" stroke="#ee0000" stroke-width="1.8" fill="none" stroke-linecap="round"/>
<circle cx="70.25" cy="103.58" r="0.8" fill="#0c8c0c"/>
<ellipse cx="74.00" cy="121.15" rx="1.5" ry="1.6" fill="#ee0000"/>
<path d="M96.25 121.15 L96.33 122.13 L96.40 123.10 L96.48 124.06 L96.55 125.01 L96.63 125.94 L96.71 126.87 L96.78 127.79 L96.86 128.69 L96.94 129.59 L97.01 130.47 L97.09 131.34 L97.16 132.20 L97.24 133.04 L97.32 133.87 L97.39 134.69 L97.47 135.50 L97.55 136.29 L97.62 137.07 L97.70 137.83 L97.77 138.58 L97.85 139.31 L97.93 140.03 L98.00 140.73 L98.08 141.42 L98.16 142.09 L98.23 142.75 L98.31 143.39 L98.38 144.01 L98.46 144.62 L98.54 145.21 L98.61 145.78 L98.69 146.34 L98.76 146.87 L98.84 147.39 L98.92 147.90 L98.99 148.38 L99.07 148.85 L99.15 149.29 L99.22 149.72 L99.30 150.13 L99.37 150.52 L99.45 150.90 L99.53 151.25 L99.60 151.58 L99.68 151.90 L99.76 152.19 L99.83 152.46 L99.91 152.72 L99.98 152.95 L100.06 153.17 L100.14 153.36 L100.21 153.54 L100.29 153.69 L100.37 153.83 L100.44 153.94 L100.52 154.03 L100.59 154.10 L100.67 154.16 L100.75 154.19 L100.82 154.20" stroke="#000" stroke-width="2.3" fill="none" stroke-linecap="round"/>
<path d="M95.95 121.15 L96.05 122.47 L96.16 123.77 L96.26 125.05 L96.36 126.32 L96.46 127.56 L96.57 128.78 L96.67 129.98 L96.77 131.17 L96.88 132.32 L96.98 133.46 L97.08 134.57 L97.18 135.66 L97.29 136.72 L97.39 137.75 L97.49 138.76 L97.60 139.74 L97.70 140.70 L97.80 141.63 L97.90 142.52 L98.01 143.39" stroke="#ee0000" stroke-width="1.8" fill="none" stroke-linecap="round"/>
<path d="M98.60 147.80 L98.69 148.34 L98.77 148.86 L98.86 149.35 L98.94 149.82 L99.03 150.27 L99.11 150.70 L99.19 151.10 L99.28 151.48 L99.36 151.83 L99.45 152.16 L99.53 152.47 L99.62 152.75 L99.70 153.00 L99.79 153.24 L99.87 153.44 L99.96 153.63 L100.04 153.78 L100.12 153.92 L100.21 154.02 L100.29 154.10" stroke="#ee0000" stroke-width="1.8" fill="none" stroke-linecap="round"/>
<circle cx="98.63" cy="145.89" r="0.8" fill="#0c8c0c"/>
<circle cx="100.82" cy="154.20" r="1.3" fill="#1a9a1a"/>
<path d="M123.72 154.20 L123.79 155.15 L123.85 156.10 L123.91 157.03 L123.98 157.95 L124.04 158.86 L124.10 159.75 L124.17 160.64 L124.23 161.51 L124.30 162.37 L124.36 163.21 L124.42 164.04 L124.49 164.86 L124.55 165.67 L124.61 166.46 L124.68 167.24 L124.74 168.00 L124.80 168.75 L124.87 169.48 L124.93 170.20 L125.00 170.91 L125.06 171.60 L125.12 172.27 L125.19 172.93 L125.25 173.58 L125.31 174.20 L125.38 174.82 L125.44 175.41 L125.51 175.99 L125.57 176.56 L125.63 177.10 L125.70 177.64 L125.76 178.15 L125.82 178.65 L125.89 179.13 L125.95 179.59 L126.01 180.04 L126.08 180.47 L126.14 180.88 L126.21 181.27 L126.27 181.65 L126.33 182.01 L126.40 182.35 L126.46 182.67 L126.52 182.98 L126.59 183.27 L126.65 183.53 L126.72 183.79 L126.78 184.02 L126.84 184.23 L126.91 184.43 L126.97 184.61 L127.03 184.77 L127.10 184.91 L127.16 185.03 L127.22 185.13 L127.29 185.22 L127.35 185.28 L127.42 185.33 L127.48 185.36 L127.54 185.37" stroke="#000" stroke-width="2.3" fill="none" stroke-linecap="round"/>
<path d="M123.42 154.20 L123.49 155.20 L123.56 156.19 L123.62 157.17 L123.69 158.13 L123.76 159.08 L123.82 160.02 L123.89 160.94 L123.96 161.85 L124.02 162.75 L124.09 163.63 L124.16 164.50 L124.22 165.35 L124.29 166.18 L124.36 167.00 L124.43 167.81 L124.49 168.60 L124.56 169.37 L124.63 170.13 L124.69 170.87 L124.76 171.60" stroke="#ee0000" stroke-width="1.8" fill="none" stroke-linecap="round"/>
<path d="M126.02 181.94 L126.08 182.27 L126.14 182.58 L126.20 182.88 L126.26 183.16 L126.33 183.43 L126.39 183.68 L126.45 183.91 L126.51 184.12 L126.57 184.32 L126.63 184.50 L126.69 184.67 L126.75 184.81 L126.82 184.94 L126.88 185.05 L126.94 185.15 L127.00 185.23 L127.06 185.29 L127.12 185.33 L127.18 185.36 L127.24 185.37" stroke="#ee0000" stroke-width="1.8" fill="none" stroke-linecap="round"/>
<circle cx="125.44" cy="175.41" r="0.8" fill="#0c8c0c"/>
<circle cx="125.86" cy="178.94" r="0.8" fill="#0c8c0c"/>
<ellipse cx="127.34" cy="185.37" rx="1.5" ry="1.6" fill="#ee0000"/>
<path d="M149.90 10.45 L150.08 14.15 L150.27 15.70 L150.45 16.90 L150.63 17.93 L150.82 18.86 L151.00 19.71 L151.18 20.51 L151.37 21.27 L151.55 22.00 L151.73 22.71 L151.92 23.40 L152.10 24.07 L152.28 24.72 L152.47 25.37 L152.65 26.01 L152.83 26.63 L153.02 27.25 L153.20 27.86 L153.38 28.47 L153.57 29.07 L153.75 29.66 L153.93 30.24 L154.12 30.82 L154.30 31.39 L154.48 31.96 L154.67 32.51 L154.85 33.06 L155.03 33.60 L155.22 34.13 L155.40 34.66 L155.58 35.17 L155.77 35.67 L155.95 36.16 L156.13 36.64 L156.32 37.10 L156.50 37.56 L156.68 38.00 L156.87 38.42 L157.05 38.83 L157.23 39.23 L157.42 39.61 L157.60 39.97 L157.78 40.32 L157.97 40.65 L158.15 40.96 L158.34 41.25 L158.52 41.52 L158.70 41.78 L158.89 42.01 L159.07 42.23 L159.25 42.42 L159.44 42.60 L159.62 42.75 L159.80 42.89 L159.99 43.00 L160.17 43.09 L160.35 43.16 L160.54 43.21 L160.72 43.25 L160.90 43.26" stroke="#000" stroke-width="2.3" fill="none" stroke-linecap="round"/>
<path d="M149.60 10.45 L149.66 12.47 L149.71 13.31 L149.77 13.96 L149.82 14.50 L149.88 14.99 L149.93 15.42 L149.99 15.83 L150.04 16.21 L150.10 16.56 L150.15 16.90 L150.21 17.22 L150.26 17.54 L150.32 17.83 L150.37 18.12 L150.43 18.41 L150.48 18.68 L150.54 18.95 L150.59 19.21 L150.65 19.46 L150.70 19.71" stroke="#ee0000" stroke-width="2.2" fill="none" stroke-linecap="round"/>
<path d="M151.58 23.26 L151.65 23.50 L151.71 23.75 L151.78 23.99 L151.84 24.22 L151.91 24.46 L151.98 24.70 L152.04 24.93 L152.11 25.16 L152.17 25.39 L152.24 25.62 L152.31 25.85 L152.37 26.08 L152.44 26.31 L152.50 26.53 L152.57 26.76 L152.64 26.98 L152.70 27.20 L152.77 27.42 L152.83 27.64 L152.90 27.86" stroke="#ee0000" stroke-width="2.2" fill="none" stroke-linecap="round"/>
<path d="M154.00 31.39 L154.33 32.40 L154.66 33.39 L154.99 34.34 L155.32 35.27 L155.65 36.16 L155.98 37.01 L156.31 37.82 L156.64 38.59 L156.97 39.31 L157.30 39.97 L157.63 40.58 L157.96 41.13 L158.29 41.63 L158.62 42.06 L158.95 42.42 L159.28 42.72 L159.61 42.96 L159.94 43.12 L160.27 43.22 L160.60 43.26" stroke="#ee0000" stroke-width="2.2" fill="none" stroke-linecap="round"/>
<ellipse cx="160.70" cy="43.26" rx="1.5" ry="1.6" fill="#ee0000"/>
<path d="M174.06 43.26 L174.22 43.95 L174.39 44.67 L174.56 45.42 L174.72 46.18 L174.89 46.96 L175.06 47.77 L175.22 48.59 L175.39 49.42 L175.56 50.28 L175.72 51.15 L175.89 52.03 L176.06 52.93 L176.22 53.83 L176.39 54.75 L176.56 55.68 L176.73 56.62 L176.89 57.56 L177.06 58.51 L177.23 59.47 L177.39 60.43 L177.56 61.38 L177.73 62.34 L177.89 63.30 L178.06 64.26 L178.23 65.21 L178.39 66.16 L178.56 67.10 L178.73 68.03 L178.89 68.95 L179.06 69.87 L179.23 70.77 L179.40 71.65 L179.56 72.52 L179.73 73.38 L179.90 74.21 L180.06 75.03 L180.23 75.82 L180.40 76.59 L180.56 77.34 L180.73 78.07 L180.90 78.77 L181.06 79.44 L181.23 80.08 L181.40 80.69 L181.56 81.27 L181.73 81.83 L181.90 82.34 L182.07 82.83 L182.23 83.28 L182.40 83.69 L182.57 84.07 L182.73 84.41 L182.90 84.71 L183.07 84.97 L183.23 85.19 L183.40 85.38 L183.57 85.52 L183.73 85.62 L183.90 85.69 L184.07 85.71" stroke="#000" stroke-width="2.3" fill="none" stroke-linecap="round"/>
<path d="M173.76 43.26 L173.88 43.78 L174.01 44.31 L174.13 44.86 L174.26 45.42 L174.38 45.99 L174.51 46.57 L174.63 47.16 L174.76 47.77 L174.88 48.38 L175.01 49.00 L175.13 49.63 L175.26 50.28 L175.38 50.93 L175.51 51.59 L175.63 52.25 L175.76 52.93 L175.88 53.61 L176.01 54.29 L176.13 54.98 L176.26 55.68" stroke="#ee0000" stroke-width="2.2" fill="none" stroke-linecap="round"/>
<path d="M177.56 63.11 L177.87 64.89 L178.18 66.65 L178.49 68.38 L178.80 70.08 L179.11 71.74 L179.42 73.34 L179.73 74.88 L180.04 76.35 L180.35 77.74 L180.66 79.04 L180.97 80.24 L181.28 81.34 L181.60 82.33 L181.91 83.21 L182.22 83.96 L182.53 84.58 L182.84 85.07 L183.15 85.42 L183.46 85.64 L183.77 85.71" stroke="#ee0000" stroke-width="2.2" fill="none" stroke-linecap="round"/>
<ellipse cx="183.87" cy="85.71" rx="1.5" ry="1.6" fill="#ee0000"/>
<path d="M204.16 85.71 L204.26 86.69 L204.35 87.67 L204.45 88.65 L204.55 89.63 L204.65 90.59 L204.75 91.55 L204.85 92.51 L204.94 93.46 L205.04 94.40 L205.14 95.33 L205.24 96.26 L205.34 97.18 L205.44 98.08 L205.54 98.98 L205.63 99.87 L205.73 100.74 L205.83 101.61 L205.93 102.46 L206.03 103.30 L206.13 104.12 L206.22 104.94 L206.32 105.74 L206.42 106.52 L206.52 107.29 L206.62 108.05 L206.72 108.79 L206.82 109.51 L206.91 110.22 L207.01 110.91 L207.11 111.58 L207.21 112.24 L207.31 112.88 L207.41 113.50 L207.50 114.10 L207.60 114.68 L207.70 115.24 L207.80 115.78 L207.90 116.30 L208.00 116.80 L208.10 117.28 L208.19 117.74 L208.29 118.18 L208.39 118.59 L208.49 118.98 L208.59 119.35 L208.69 119.70 L208.78 120.03 L208.88 120.33 L208.98 120.61 L209.08 120.86 L209.18 121.10 L209.28 121.30 L209.38 121.49 L209.47 121.65 L209.57 121.78 L209.67 121.89 L209.77 121.98 L209.87 122.04 L209.97 122.08 L210.06 122.09" stroke="#000" stroke-width="2.3" fill="none" stroke-linecap="round"/>
<path d="M206.52 109.51 L206.68 110.67 L206.84 111.78 L207.00 112.85 L207.17 113.86 L207.33 114.82 L207.49 115.73 L207.65 116.58 L207.82 117.37 L207.98 118.11 L208.14 118.79 L208.30 119.41 L208.46 119.96 L208.63 120.46 L208.79 120.89 L208.95 121.25 L209.11 121.55 L209.28 121.79 L209.44 121.96 L209.60 122.06 L209.76 122.09" stroke="#ee0000" stroke-width="1.8" fill="none" stroke-linecap="round"/>
<circle cx="204.75" cy="91.55" r="0.8" fill="#0c8c0c"/>
<circle cx="205.93" cy="102.46" r="0.8" fill="#0c8c0c"/>
<ellipse cx="209.86" cy="122.09" rx="1.5" ry="1.6" fill="#ee0000"/>
<path d="M231.87 122.09 L231.95 123.07 L232.02 124.04 L232.10 125.01 L232.17 125.96 L232.25 126.90 L232.32 127.83 L232.40 128.75 L232.47 129.66 L232.55 130.56 L232.63 131.44 L232.70 132.32 L232.78 133.18 L232.85 134.02 L232.93 134.86 L233.00 135.68 L233.08 136.49 L233.15 137.29 L233.23 138.07 L233.30 138.83 L233.38 139.58 L233.45 140.32 L233.53 141.04 L233.61 141.75 L233.68 142.44 L233.76 143.11 L233.83 143.77 L233.91 144.41 L233.98 145.04 L234.06 145.65 L234.13 146.24 L234.21 146.82 L234.28 147.37 L234.36 147.91 L234.43 148.44 L234.51 148.94 L234.59 149.43 L234.66 149.89 L234.74 150.34 L234.81 150.77 L234.89 151.18 L234.96 151.58 L235.04 151.95 L235.11 152.30 L235.19 152.64 L235.26 152.95 L235.34 153.25 L235.41 153.52 L235.49 153.78 L235.56 154.02 L235.64 154.23 L235.72 154.43 L235.79 154.60 L235.87 154.76 L235.94 154.89 L236.02 155.00 L236.09 155.10 L236.17 155.17 L236.24 155.22 L236.32 155.25 L236.39 155.26" stroke="#000" stroke-width="2.3" fill="none" stroke-linecap="round"/>
<path d="M232.93 138.07 L232.99 138.64 L233.04 139.21 L233.10 139.77 L233.15 140.32 L233.21 140.86 L233.27 141.40 L233.32 141.92 L233.38 142.44 L233.44 142.95 L233.49 143.44 L233.55 143.93 L233.61 144.41 L233.66 144.89 L233.72 145.35 L233.78 145.80 L233.83 146.24 L233.89 146.67 L233.95 147.10 L234.00 147.51 L234.06 147.91" stroke="#ee0000" stroke-width="1.6" fill="none" stroke-linecap="round"/>
<path d="M234.51 150.77 L234.55 150.96 L234.58 151.14 L234.61 151.32 L234.65 151.50 L234.68 151.67 L234.71 151.84 L234.75 152.00 L234.78 152.16 L234.82 152.32 L234.85 152.47 L234.88 152.62 L234.92 152.77 L234.95 152.91 L234.99 153.04 L235.02 153.18 L235.05 153.31 L235.09 153.43 L235.12 153.55 L235.16 153.67 L235.19 153.78" stroke="#ee0000" stroke-width="1.6" fill="none" stroke-linecap="round"/>
<circle cx="232.55" cy="130.56" r="0.8" fill="#0c8c0c"/>
<circle cx="234.59" cy="149.43" r="0.8" fill="#0c8c0c"/>
<circle cx="235.94" cy="154.89" r="0.8" fill="#0c8c0c"/>
<circle cx="236.39" cy="155.26" r="1.3" fill="#1a9a1a"/>
<path d="M259.04 155.26 L259.10 156.22 L259.16 157.17 L259.23 158.11 L259.29 159.03 L259.35 159.94 L259.42 160.84 L259.48 161.73 L259.54 162.60 L259.60 163.46 L259.67 164.31 L259.73 165.15 L259.79 165.97 L259.86 166.78 L259.92 167.57 L259.98 168.35 L260.04 169.12 L260.11 169.87 L260.17 170.61 L260.23 171.33 L260.30 172.04 L260.36 172.73 L260.42 173.41 L260.49 174.07 L260.55 174.72 L260.61 175.35 L260.67 175.96 L260.74 176.56 L260.80 177.15 L260.86 177.71 L260.93 178.26 L260.99 178.79 L261.05 179.31 L261.12 179.81 L261.18 180.29 L261.24 180.76 L261.30 181.21 L261.37 181.64 L261.43 182.05 L261.49 182.45 L261.56 182.82 L261.62 183.18 L261.68 183.53 L261.74 183.85 L261.81 184.16 L261.87 184.45 L261.93 184.72 L262.00 184.97 L262.06 185.20 L262.12 185.42 L262.19 185.61 L262.25 185.79 L262.31 185.95 L262.37 186.09 L262.44 186.22 L262.50 186.32 L262.56 186.40 L262.63 186.47 L262.69 186.52 L262.75 186.55 L262.82 186.56" stroke="#000" stroke-width="2.3" fill="none" stroke-linecap="round"/>
<path d="M259.49 165.97 L259.51 166.22 L259.53 166.46 L259.55 166.70 L259.57 166.94 L259.59 167.18 L259.61 167.42 L259.63 167.65 L259.64 167.89 L259.66 168.12 L259.68 168.35 L259.70 168.59 L259.72 168.82 L259.74 169.04 L259.76 169.27 L259.78 169.50 L259.80 169.72 L259.81 169.95 L259.83 170.17 L259.85 170.39 L259.87 170.61" stroke="#ee0000" stroke-width="1.6" fill="none" stroke-linecap="round"/>
<path d="M260.82 179.81 L260.83 179.96 L260.85 180.10 L260.87 180.25 L260.89 180.39 L260.91 180.53 L260.93 180.67 L260.95 180.80 L260.97 180.94 L260.99 181.07 L261.00 181.21 L261.02 181.34 L261.04 181.47 L261.06 181.59 L261.08 181.72 L261.10 181.85 L261.12 181.97 L261.14 182.09 L261.16 182.21 L261.17 182.33 L261.19 182.45" stroke="#ee0000" stroke-width="1.6" fill="none" stroke-linecap="round"/>
<circle cx="259.42" cy="160.84" r="0.8" fill="#0c8c0c"/>
<circle cx="260.74" cy="176.56" r="0.8" fill="#0c8c0c"/>
<circle cx="262.06" cy="185.20" r="0.8" fill="#0c8c0c"/>
<circle cx="262.82" cy="186.56" r="1.3" fill="#1a9a1a"/>
<path d="M285.60 86.96 L285.78 88.88 L285.97 89.68 L286.15 90.31 L286.34 90.84 L286.52 91.32 L286.70 91.76 L286.89 92.18 L287.07 92.57 L287.26 92.95 L287.44 93.31 L287.62 93.67 L287.81 94.02 L287.99 94.36 L288.18 94.69 L288.36 95.02 L288.54 95.35 L288.73 95.67 L288.91 95.98 L289.10 96.30 L289.28 96.61 L289.46 96.91 L289.65 97.22 L289.83 97.52 L290.02 97.81 L290.20 98.11 L290.38 98.39 L290.57 98.68 L290.75 98.96 L290.94 99.23 L291.12 99.50 L291.30 99.77 L291.49 100.03 L291.67 100.28 L291.86 100.53 L292.04 100.77 L292.22 101.01 L292.41 101.23 L292.59 101.45 L292.78 101.67 L292.96 101.87 L293.14 102.07 L293.33 102.26 L293.51 102.44 L293.70 102.61 L293.88 102.77 L294.06 102.92 L294.25 103.06 L294.43 103.19 L294.62 103.31 L294.80 103.43 L294.98 103.53 L295.17 103.62 L295.35 103.70 L295.54 103.77 L295.72 103.83 L295.90 103.87 L296.09 103.91 L296.27 103.94 L296.46 103.95 L296.64 103.96" stroke="#000" stroke-width="2.8" fill="none" stroke-linecap="round"/>
<circle cx="296.64" cy="103.96" r="1.3" fill="#1a9a1a"/>
<path d="M309.84 103.96 L310.00 104.32 L310.17 104.69 L310.34 105.08 L310.51 105.47 L310.67 105.88 L310.84 106.29 L311.01 106.72 L311.18 107.15 L311.34 107.60 L311.51 108.05 L311.68 108.50 L311.85 108.97 L312.01 109.44 L312.18 109.91 L312.35 110.40 L312.52 110.88 L312.68 111.37 L312.85 111.86 L313.02 112.36 L313.19 112.85 L313.35 113.35 L313.52 113.85 L313.69 114.34 L313.85 114.84 L314.02 115.33 L314.19 115.82 L314.36 116.31 L314.52 116.79 L314.69 117.27 L314.86 117.74 L315.03 118.21 L315.19 118.67 L315.36 119.12 L315.53 119.56 L315.70 119.99 L315.86 120.42 L316.03 120.83 L316.20 121.23 L316.37 121.62 L316.53 121.99 L316.70 122.35 L316.87 122.70 L317.04 123.03 L317.20 123.35 L317.37 123.65 L317.54 123.94 L317.71 124.21 L317.87 124.46 L318.04 124.69 L318.21 124.90 L318.38 125.10 L318.54 125.28 L318.71 125.43 L318.88 125.57 L319.05 125.68 L319.21 125.78 L319.38 125.85 L319.55 125.91 L319.71 125.94 L319.88 125.95" stroke="#000" stroke-width="2.8" fill="none" stroke-linecap="round"/>
<circle cx="319.88" cy="125.95" r="1.3" fill="#1a9a1a"/>
<path d="M340.04 125.95 L340.14 126.46 L340.24 126.97 L340.34 127.48 L340.43 127.98 L340.53 128.48 L340.63 128.98 L340.73 129.47 L340.83 129.97 L340.93 130.45 L341.03 130.94 L341.13 131.42 L341.22 131.89 L341.32 132.36 L341.42 132.82 L341.52 133.28 L341.62 133.74 L341.72 134.19 L341.82 134.63 L341.92 135.06 L342.01 135.49 L342.11 135.91 L342.21 136.33 L342.31 136.73 L342.41 137.13 L342.51 137.52 L342.61 137.91 L342.71 138.28 L342.80 138.65 L342.90 139.01 L343.00 139.35 L343.10 139.69 L343.20 140.02 L343.30 140.35 L343.40 140.66 L343.50 140.96 L343.60 141.25 L343.69 141.53 L343.79 141.80 L343.89 142.06 L343.99 142.31 L344.09 142.54 L344.19 142.77 L344.29 142.98 L344.39 143.19 L344.48 143.38 L344.58 143.56 L344.68 143.73 L344.78 143.88 L344.88 144.03 L344.98 144.16 L345.08 144.28 L345.18 144.39 L345.27 144.48 L345.37 144.57 L345.47 144.64 L345.57 144.69 L345.67 144.74 L345.77 144.77 L345.87 144.79 L345.97 144.80" stroke="#000" stroke-width="2.8" fill="none" stroke-linecap="round"/>
<circle cx="345.97" cy="144.80" r="1.3" fill="#1a9a1a"/>
<path d="M367.85 144.80 L367.92 145.31 L368.00 145.81 L368.07 146.31 L368.15 146.80 L368.22 147.29 L368.30 147.77 L368.38 148.25 L368.45 148.72 L368.53 149.18 L368.60 149.64 L368.68 150.09 L368.75 150.54 L368.83 150.98 L368.91 151.41 L368.98 151.84 L369.06 152.26 L369.13 152.67 L369.21 153.07 L369.28 153.47 L369.36 153.86 L369.43 154.24 L369.51 154.61 L369.59 154.98 L369.66 155.34 L369.74 155.69 L369.81 156.03 L369.89 156.36 L369.96 156.69 L370.04 157.00 L370.12 157.31 L370.19 157.61 L370.27 157.89 L370.34 158.17 L370.42 158.44 L370.49 158.71 L370.57 158.96 L370.64 159.20 L370.72 159.43 L370.80 159.65 L370.87 159.87 L370.95 160.07 L371.02 160.26 L371.10 160.45 L371.17 160.62 L371.25 160.78 L371.33 160.94 L371.40 161.08 L371.48 161.21 L371.55 161.34 L371.63 161.45 L371.70 161.55 L371.78 161.64 L371.85 161.72 L371.93 161.79 L372.01 161.85 L372.08 161.90 L372.16 161.93 L372.23 161.96 L372.31 161.98 L372.38 161.98" stroke="#000" stroke-width="2.8" fill="none" stroke-linecap="round"/>
<circle cx="372.38" cy="161.98" r="1.3" fill="#1a9a1a"/>
<path d="M395.10 161.98 L395.17 162.48 L395.23 162.97 L395.29 163.45 L395.36 163.93 L395.42 164.40 L395.48 164.87 L395.55 165.33 L395.61 165.78 L395.67 166.23 L395.73 166.67 L395.80 167.10 L395.86 167.53 L395.92 167.95 L395.99 168.36 L396.05 168.76 L396.11 169.16 L396.18 169.55 L396.24 169.93 L396.30 170.31 L396.37 170.67 L396.43 171.03 L396.49 171.38 L396.56 171.72 L396.62 172.06 L396.68 172.39 L396.75 172.70 L396.81 173.02 L396.87 173.32 L396.94 173.61 L397.00 173.89 L397.06 174.17 L397.12 174.44 L397.19 174.70 L397.25 174.95 L397.31 175.19 L397.38 175.42 L397.44 175.64 L397.50 175.86 L397.57 176.06 L397.63 176.26 L397.69 176.45 L397.76 176.62 L397.82 176.79 L397.88 176.95 L397.95 177.10 L398.01 177.24 L398.07 177.37 L398.14 177.49 L398.20 177.60 L398.26 177.70 L398.33 177.80 L398.39 177.88 L398.45 177.95 L398.51 178.02 L398.58 178.07 L398.64 178.11 L398.70 178.15 L398.77 178.17 L398.83 178.19 L398.89 178.19" stroke="#000" stroke-width="2.8" fill="none" stroke-linecap="round"/>
<circle cx="398.89" cy="178.19" r="1.3" fill="#1a9a1a"/>
<path d="M418.90 128.77 L419.09 129.88 L419.28 130.34 L419.47 130.70 L419.65 131.01 L419.84 131.29 L420.03 131.54 L420.22 131.78 L420.41 132.01 L420.60 132.23 L420.78 132.44 L420.97 132.65 L421.16 132.85 L421.35 133.05 L421.54 133.24 L421.73 133.43 L421.92 133.62 L422.10 133.80 L422.29 133.99 L422.48 134.17 L422.67 134.35 L422.86 134.52 L423.05 134.70 L423.23 134.87 L423.42 135.04 L423.61 135.21 L423.80 135.38 L423.99 135.54 L424.18 135.71 L424.36 135.87 L424.55 136.02 L424.74 136.18 L424.93 136.33 L425.12 136.47 L425.31 136.62 L425.50 136.76 L425.68 136.89 L425.87 137.02 L426.06 137.15 L426.25 137.27 L426.44 137.39 L426.63 137.51 L426.81 137.62 L427.00 137.72 L427.19 137.82 L427.38 137.91 L427.57 138.00 L427.76 138.08 L427.95 138.16 L428.13 138.23 L428.32 138.29 L428.51 138.35 L428.70 138.40 L428.89 138.45 L429.08 138.49 L429.26 138.52 L429.45 138.55 L429.64 138.57 L429.83 138.59 L430.02 138.60 L430.21 138.60" stroke="#000" stroke-width="2.8" fill="none" stroke-linecap="round"/>
<circle cx="430.21" cy="138.60" r="1.3" fill="#1a9a1a"/>
<path d="M443.72 138.60 L443.90 138.81 L444.07 139.03 L444.24 139.25 L444.41 139.48 L444.58 139.71 L444.75 139.95 L444.92 140.20 L445.10 140.45 L445.27 140.70 L445.44 140.97 L445.61 141.23 L445.78 141.50 L445.95 141.77 L446.12 142.05 L446.30 142.32 L446.47 142.61 L446.64 142.89 L446.81 143.17 L446.98 143.46 L447.15 143.75 L447.32 144.03 L447.50 144.32 L447.67 144.61 L447.84 144.90 L448.01 145.18 L448.18 145.47 L448.35 145.75 L448.53 146.03 L448.70 146.30 L448.87 146.58 L449.04 146.85 L449.21 147.11 L449.38 147.37 L449.55 147.63 L449.73 147.88 L449.90 148.12 L450.07 148.36 L450.24 148.59 L450.41 148.82 L450.58 149.03 L450.75 149.24 L450.93 149.45 L451.10 149.64 L451.27 149.82 L451.44 150.00 L451.61 150.16 L451.78 150.32 L451.96 150.46 L452.13 150.60 L452.30 150.72 L452.47 150.83 L452.64 150.93 L452.81 151.03 L452.98 151.10 L453.16 151.17 L453.33 151.23 L453.50 151.27 L453.67 151.30 L453.84 151.32 L454.01 151.33" stroke="#000" stroke-width="2.8" fill="none" stroke-linecap="round"/>
<circle cx="454.01" cy="151.33" r="1.3" fill="#1a9a1a"/>
<path d="M474.66 151.33 L474.76 151.62 L474.86 151.91 L474.96 152.21 L475.06 152.50 L475.16 152.79 L475.26 153.08 L475.37 153.36 L475.47 153.65 L475.57 153.93 L475.67 154.21 L475.77 154.49 L475.87 154.76 L475.97 155.03 L476.07 155.30 L476.18 155.57 L476.28 155.83 L476.38 156.09 L476.48 156.35 L476.58 156.60 L476.68 156.85 L476.78 157.09 L476.88 157.33 L476.98 157.56 L477.09 157.80 L477.19 158.02 L477.29 158.24 L477.39 158.46 L477.49 158.67 L477.59 158.88 L477.69 159.08 L477.79 159.28 L477.90 159.47 L478.00 159.65 L478.10 159.83 L478.20 160.01 L478.30 160.18 L478.40 160.34 L478.50 160.50 L478.60 160.65 L478.71 160.79 L478.81 160.93 L478.91 161.06 L479.01 161.18 L479.11 161.30 L479.21 161.41 L479.31 161.51 L479.41 161.61 L479.51 161.70 L479.62 161.79 L479.72 161.86 L479.82 161.93 L479.92 161.99 L480.02 162.05 L480.12 162.10 L480.22 162.14 L480.32 162.17 L480.43 162.20 L480.53 162.22 L480.63 162.23 L480.73 162.23" stroke="#000" stroke-width="2.8" fill="none" stroke-linecap="round"/>
<circle cx="480.73" cy="162.23" r="1.3" fill="#1a9a1a"/>
<path d="M503.14 162.23 L503.22 162.52 L503.29 162.82 L503.37 163.10 L503.45 163.39 L503.53 163.67 L503.60 163.95 L503.68 164.23 L503.76 164.50 L503.84 164.77 L503.91 165.03 L503.99 165.30 L504.07 165.55 L504.15 165.81 L504.22 166.06 L504.30 166.30 L504.38 166.55 L504.46 166.79 L504.53 167.02 L504.61 167.25 L504.69 167.47 L504.77 167.70 L504.84 167.91 L504.92 168.12 L505.00 168.33 L505.08 168.53 L505.15 168.73 L505.23 168.92 L505.31 169.11 L505.39 169.29 L505.46 169.47 L505.54 169.64 L505.62 169.81 L505.70 169.97 L505.77 170.13 L505.85 170.28 L505.93 170.42 L506.01 170.56 L506.08 170.70 L506.16 170.83 L506.24 170.95 L506.31 171.07 L506.39 171.18 L506.47 171.29 L506.55 171.39 L506.62 171.48 L506.70 171.57 L506.78 171.65 L506.86 171.73 L506.93 171.80 L507.01 171.86 L507.09 171.92 L507.17 171.98 L507.24 172.02 L507.32 172.06 L507.40 172.10 L507.48 172.12 L507.55 172.15 L507.63 172.16 L507.71 172.17 L507.79 172.17" stroke="#000" stroke-width="2.8" fill="none" stroke-linecap="round"/>
<circle cx="507.79" cy="172.17" r="1.3" fill="#1a9a1a"/>
<path d="M531.06 172.17 L531.12 172.46 L531.19 172.75 L531.25 173.03 L531.31 173.30 L531.38 173.58 L531.44 173.85 L531.51 174.11 L531.57 174.37 L531.64 174.63 L531.70 174.89 L531.77 175.14 L531.83 175.38 L531.90 175.63 L531.96 175.86 L532.03 176.10 L532.09 176.33 L532.16 176.55 L532.22 176.77 L532.29 176.99 L532.35 177.20 L532.41 177.41 L532.48 177.61 L532.54 177.81 L532.61 178.01 L532.67 178.19 L532.74 178.38 L532.80 178.56 L532.87 178.73 L532.93 178.90 L533.00 179.07 L533.06 179.23 L533.13 179.38 L533.19 179.53 L533.26 179.68 L533.32 179.82 L533.39 179.95 L533.45 180.08 L533.51 180.20 L533.58 180.32 L533.64 180.44 L533.71 180.54 L533.77 180.65 L533.84 180.74 L533.90 180.84 L533.97 180.92 L534.03 181.00 L534.10 181.08 L534.16 181.15 L534.23 181.21 L534.29 181.27 L534.36 181.33 L534.42 181.37 L534.49 181.42 L534.55 181.45 L534.62 181.48 L534.68 181.51 L534.74 181.53 L534.81 181.54 L534.87 181.55 L534.94 181.55" stroke="#000" stroke-width="2.8" fill="none" stroke-linecap="round"/>
<circle cx="534.94" cy="181.55" r="1.3" fill="#1a9a1a"/>
<path d="M554.60 136.46 L554.79 137.40 L554.98 137.80 L555.17 138.11 L555.36 138.37 L555.55 138.61 L555.73 138.83 L555.92 139.03 L556.11 139.23 L556.30 139.41 L556.49 139.60 L556.68 139.77 L556.87 139.94 L557.06 140.11 L557.25 140.28 L557.44 140.44 L557.62 140.60 L557.81 140.76 L558.00 140.91 L558.19 141.07 L558.38 141.22 L558.57 141.37 L558.76 141.52 L558.95 141.67 L559.14 141.82 L559.33 141.96 L559.52 142.11 L559.70 142.25 L559.89 142.38 L560.08 142.52 L560.27 142.65 L560.46 142.78 L560.65 142.91 L560.84 143.04 L561.03 143.16 L561.22 143.28 L561.41 143.40 L561.60 143.51 L561.78 143.62 L561.97 143.72 L562.16 143.82 L562.35 143.92 L562.54 144.01 L562.73 144.10 L562.92 144.19 L563.11 144.27 L563.30 144.34 L563.49 144.41 L563.67 144.48 L563.86 144.54 L564.05 144.59 L564.24 144.64 L564.43 144.69 L564.62 144.73 L564.81 144.76 L565.00 144.79 L565.19 144.81 L565.38 144.83 L565.57 144.84 L565.75 144.85 L565.94 144.86" stroke="#000" stroke-width="2.8" fill="none" stroke-linecap="round"/>
<circle cx="565.94" cy="144.86" r="1.3" fill="#1a9a1a"/>
<path d="M579.50 144.86 L579.68 145.03 L579.85 145.22 L580.02 145.41 L580.19 145.60 L580.36 145.80 L580.54 146.01 L580.71 146.22 L580.88 146.43 L581.05 146.65 L581.23 146.87 L581.40 147.10 L581.57 147.33 L581.74 147.56 L581.91 147.80 L582.09 148.04 L582.26 148.28 L582.43 148.52 L582.60 148.76 L582.77 149.01 L582.95 149.25 L583.12 149.50 L583.29 149.74 L583.46 149.99 L583.63 150.23 L583.81 150.48 L583.98 150.72 L584.15 150.96 L584.32 151.20 L584.49 151.43 L584.67 151.67 L584.84 151.90 L585.01 152.12 L585.18 152.35 L585.35 152.57 L585.53 152.78 L585.70 152.99 L585.87 153.19 L586.04 153.39 L586.21 153.58 L586.39 153.77 L586.56 153.95 L586.73 154.12 L586.90 154.28 L587.07 154.44 L587.25 154.59 L587.42 154.73 L587.59 154.86 L587.76 154.98 L587.93 155.10 L588.11 155.21 L588.28 155.30 L588.45 155.39 L588.62 155.47 L588.80 155.53 L588.97 155.59 L589.14 155.64 L589.31 155.67 L589.48 155.70 L589.66 155.72 L589.83 155.72" stroke="#000" stroke-width="2.8" fill="none" stroke-linecap="round"/>
<circle cx="589.83" cy="155.72" r="1.3" fill="#1a9a1a"/>
<path d="M610.54 155.72 L610.64 155.97 L610.74 156.23 L610.84 156.48 L610.95 156.73 L611.05 156.97 L611.15 157.22 L611.25 157.46 L611.35 157.71 L611.45 157.95 L611.55 158.19 L611.66 158.42 L611.76 158.66 L611.86 158.89 L611.96 159.12 L612.06 159.35 L612.16 159.57 L612.27 159.79 L612.37 160.01 L612.47 160.23 L612.57 160.44 L612.67 160.65 L612.77 160.85 L612.87 161.05 L612.98 161.25 L613.08 161.44 L613.18 161.63 L613.28 161.82 L613.38 162.00 L613.48 162.17 L613.59 162.35 L613.69 162.51 L613.79 162.68 L613.89 162.84 L613.99 162.99 L614.09 163.14 L614.19 163.28 L614.30 163.42 L614.40 163.55 L614.50 163.68 L614.60 163.81 L614.70 163.92 L614.80 164.03 L614.90 164.14 L615.01 164.24 L615.11 164.34 L615.21 164.42 L615.31 164.51 L615.41 164.59 L615.51 164.66 L615.62 164.72 L615.72 164.78 L615.82 164.83 L615.92 164.88 L616.02 164.92 L616.12 164.96 L616.22 164.99 L616.33 165.01 L616.43 165.02 L616.53 165.03 L616.63 165.04" stroke="#000" stroke-width="2.8" fill="none" stroke-linecap="round"/>
<circle cx="616.63" cy="165.04" r="1.3" fill="#1a9a1a"/>
<path d="M639.11 165.04 L639.19 165.29 L639.27 165.54 L639.35 165.78 L639.43 166.03 L639.50 166.27 L639.58 166.51 L639.66 166.74 L639.74 166.97 L639.81 167.20 L639.89 167.43 L639.97 167.65 L640.05 167.87 L640.12 168.09 L640.20 168.31 L640.28 168.52 L640.36 168.72 L640.44 168.93 L640.51 169.13 L640.59 169.32 L640.67 169.51 L640.75 169.70 L640.82 169.89 L640.90 170.07 L640.98 170.25 L641.06 170.42 L641.13 170.59 L641.21 170.75 L641.29 170.91 L641.37 171.07 L641.45 171.22 L641.52 171.37 L641.60 171.51 L641.68 171.65 L641.76 171.78 L641.83 171.91 L641.91 172.03 L641.99 172.15 L642.07 172.27 L642.14 172.38 L642.22 172.48 L642.30 172.58 L642.38 172.68 L642.46 172.77 L642.53 172.86 L642.61 172.94 L642.69 173.01 L642.77 173.08 L642.84 173.15 L642.92 173.21 L643.00 173.26 L643.08 173.31 L643.15 173.36 L643.23 173.40 L643.31 173.43 L643.39 173.46 L643.47 173.49 L643.54 173.50 L643.62 173.52 L643.70 173.53 L643.78 173.53" stroke="#000" stroke-width="2.8" fill="none" stroke-linecap="round"/>
<circle cx="643.78" cy="173.53" r="1.3" fill="#1a9a1a"/>
<path d="M667.12 173.53 L667.19 173.77 L667.25 174.02 L667.32 174.26 L667.38 174.49 L667.45 174.73 L667.51 174.96 L667.58 175.18 L667.64 175.41 L667.71 175.63 L667.77 175.84 L667.84 176.06 L667.90 176.27 L667.97 176.48 L668.03 176.68 L668.10 176.88 L668.16 177.08 L668.23 177.27 L668.29 177.46 L668.36 177.64 L668.42 177.82 L668.49 178.00 L668.55 178.17 L668.62 178.34 L668.68 178.51 L668.74 178.67 L668.81 178.83 L668.87 178.98 L668.94 179.13 L669.00 179.27 L669.07 179.42 L669.13 179.55 L669.20 179.68 L669.26 179.81 L669.33 179.94 L669.39 180.05 L669.46 180.17 L669.52 180.28 L669.59 180.39 L669.65 180.49 L669.72 180.58 L669.78 180.68 L669.85 180.76 L669.91 180.85 L669.98 180.93 L670.04 181.00 L670.11 181.07 L670.17 181.13 L670.24 181.19 L670.30 181.25 L670.37 181.30 L670.43 181.34 L670.50 181.38 L670.56 181.42 L670.63 181.45 L670.69 181.48 L670.76 181.50 L670.82 181.52 L670.89 181.53 L670.95 181.54 L671.02 181.54" stroke="#000" stroke-width="2.8" fill="none" stroke-linecap="round"/>
<circle cx="671.02" cy="181.54" r="1.3" fill="#1a9a1a"/>
<ellipse cx="285.9" cy="23.3" rx="1.0" ry="1.85" fill="#f42020"/>
<ellipse cx="290.8" cy="34.2" rx="1.0" ry="1.85" fill="#f42020"/>
<ellipse cx="294.6" cy="37.4" rx="1.0" ry="1.85" fill="#f42020"/>
<ellipse cx="296.4" cy="39.7" rx="1.0" ry="1.85" fill="#f42020"/>
<ellipse cx="300.1" cy="41.2" rx="1.0" ry="1.85" fill="#f42020"/>
<ellipse cx="300.9" cy="43.5" rx="1.0" ry="1.85" fill="#f42020"/>
<ellipse cx="309.8" cy="43.1" rx="1.0" ry="1.85" fill="#f42020"/>
<ellipse cx="311.2" cy="46.4" rx="1.0" ry="1.85" fill="#f42020"/>
<ellipse cx="313.2" cy="49.4" rx="1.0" ry="1.85" fill="#f42020"/>
<ellipse cx="314.2" cy="51" rx="1.0" ry="1.85" fill="#f42020"/>
<ellipse cx="315.3" cy="54" rx="1.0" ry="1.85" fill="#f42020"/>
<ellipse cx="315.8" cy="55.6" rx="1.0" ry="1.85" fill="#f42020"/>
<ellipse cx="316.8" cy="57.2" rx="1.0" ry="1.85" fill="#f42020"/>
<ellipse cx="317.3" cy="67.6" rx="1.0" ry="1.85" fill="#f42020"/>
<ellipse cx="318" cy="68.9" rx="1.0" ry="1.85" fill="#f42020"/>
<ellipse cx="319.1" cy="71.5" rx="1.0" ry="1.85" fill="#f42020"/>
<ellipse cx="339.9" cy="75.6" rx="1.0" ry="1.85" fill="#f42020"/>
<ellipse cx="342.5" cy="82.8" rx="1.0" ry="1.85" fill="#f42020"/>
<ellipse cx="343.3" cy="84.3" rx="1.0" ry="1.85" fill="#f42020"/>
<ellipse cx="345.5" cy="84.6" rx="1.0" ry="1.85" fill="#f42020"/>
<ellipse cx="346.3" cy="86.3" rx="1.0" ry="1.85" fill="#f42020"/>
<ellipse cx="347.1" cy="90.4" rx="1.0" ry="1.85" fill="#f42020"/>
<ellipse cx="368.6" cy="94.6" rx="1.0" ry="1.85" fill="#f42020"/>
<ellipse cx="369.6" cy="98.2" rx="1.0" ry="1.85" fill="#f42020"/>
<ellipse cx="370.7" cy="100.7" rx="1.0" ry="1.85" fill="#f42020"/>
<ellipse cx="371.2" cy="102.8" rx="1.0" ry="1.85" fill="#f42020"/>
<ellipse cx="371.2" cy="108.4" rx="1.0" ry="1.85" fill="#f42020"/>
<ellipse cx="371.5" cy="112" rx="1.0" ry="1.85" fill="#f42020"/>
<ellipse cx="396" cy="114.3" rx="1.0" ry="1.85" fill="#f42020"/>
<ellipse cx="396.7" cy="115.1" rx="1.0" ry="1.85" fill="#f42020"/>
<ellipse cx="398.8" cy="125.8" rx="1.0" ry="1.85" fill="#f42020"/>
<ellipse cx="419.4" cy="23.4" rx="1.0" ry="1.85" fill="#f42020"/>
<ellipse cx="420.9" cy="54" rx="1.0" ry="1.85" fill="#f42020"/>
<ellipse cx="429.2" cy="66.5" rx="1.0" ry="1.85" fill="#f42020"/>
<ellipse cx="448.7" cy="71.6" rx="1.0" ry="1.85" fill="#f42020"/>
<ellipse cx="452.3" cy="77.1" rx="1.0" ry="1.85" fill="#f42020"/>
<ellipse cx="472.9" cy="84.4" rx="1.0" ry="1.85" fill="#f42020"/>
<ellipse cx="477.8" cy="97.2" rx="1.0" ry="1.85" fill="#f42020"/>
<ellipse cx="505.2" cy="103.8" rx="1.0" ry="1.85" fill="#f42020"/>
<ellipse cx="505.6" cy="111.3" rx="1.0" ry="1.85" fill="#f42020"/>
<ellipse cx="534.2" cy="135.3" rx="1.0" ry="1.85" fill="#f42020"/>
<ellipse cx="555" cy="13.2" rx="1.0" ry="1.85" fill="#f42020"/>
<ellipse cx="557.1" cy="23.4" rx="1.0" ry="1.85" fill="#f42020"/>
<ellipse cx="558" cy="38.5" rx="1.0" ry="1.85" fill="#f42020"/>
<ellipse cx="560.5" cy="44.1" rx="1.0" ry="1.85" fill="#f42020"/>
<ellipse cx="563.6" cy="48.9" rx="1.0" ry="1.85" fill="#f42020"/>
<ellipse cx="564" cy="62.2" rx="1.0" ry="1.85" fill="#f42020"/>
<ellipse cx="574.9" cy="63" rx="1.0" ry="1.85" fill="#f42020"/>
<ellipse cx="576" cy="64" rx="1.0" ry="1.85" fill="#f42020"/>
<ellipse cx="577" cy="65.2" rx="1.0" ry="1.85" fill="#f42020"/>
<ellipse cx="578.3" cy="66.2" rx="1.0" ry="1.85" fill="#f42020"/>
<ellipse cx="579.5" cy="67.3" rx="1.0" ry="1.85" fill="#f42020"/>
<ellipse cx="580.5" cy="69" rx="1.0" ry="1.85" fill="#f42020"/>
<ellipse cx="581.4" cy="70.8" rx="1.0" ry="1.85" fill="#f42020"/>
<ellipse cx="581.5" cy="73" rx="1.0" ry="1.85" fill="#f42020"/>
<ellipse cx="581.8" cy="75.4" rx="1.0" ry="1.85" fill="#f42020"/>
<ellipse cx="583.8" cy="74.1" rx="1.0" ry="1.85" fill="#f42020"/>
<ellipse cx="584.6" cy="76" rx="1.0" ry="1.85" fill="#f42020"/>
<ellipse cx="585.4" cy="77.8" rx="1.0" ry="1.85" fill="#f42020"/>
<ellipse cx="586.2" cy="79.5" rx="1.0" ry="1.85" fill="#f42020"/>
<ellipse cx="587" cy="81" rx="1.0" ry="1.85" fill="#f42020"/>
<ellipse cx="587.8" cy="82.6" rx="1.0" ry="1.85" fill="#f42020"/>
<ellipse cx="588.6" cy="84.2" rx="1.0" ry="1.85" fill="#f42020"/>
<ellipse cx="589.4" cy="85.8" rx="1.0" ry="1.85" fill="#f42020"/>
<ellipse cx="589.9" cy="90.4" rx="1.0" ry="1.85" fill="#f42020"/>
<ellipse cx="609.6" cy="92.3" rx="1.0" ry="1.85" fill="#f42020"/>
<ellipse cx="610.3" cy="94.5" rx="1.0" ry="1.85" fill="#f42020"/>
<ellipse cx="611" cy="96.8" rx="1.0" ry="1.85" fill="#f42020"/>
<ellipse cx="611.6" cy="99" rx="1.0" ry="1.85" fill="#f42020"/>
<ellipse cx="612.2" cy="101.2" rx="1.0" ry="1.85" fill="#f42020"/>
<ellipse cx="613.2" cy="103.8" rx="1.0" ry="1.85" fill="#f42020"/>
<ellipse cx="614.2" cy="106.5" rx="1.0" ry="1.85" fill="#f42020"/>
<ellipse cx="615.2" cy="108.8" rx="1.0" ry="1.85" fill="#f42020"/>
<ellipse cx="616.2" cy="110.6" rx="1.0" ry="1.85" fill="#f42020"/>
<ellipse cx="616.9" cy="111.3" rx="1.0" ry="1.85" fill="#f42020"/>
<ellipse cx="617.4" cy="110.8" rx="1.0" ry="1.85" fill="#f42020"/>
<ellipse cx="616.6" cy="111.6" rx="1.0" ry="1.85" fill="#f42020"/>
<ellipse cx="637.9" cy="110.8" rx="1.0" ry="1.85" fill="#f42020"/>
<ellipse cx="638.6" cy="112.9" rx="1.0" ry="1.85" fill="#f42020"/>
<ellipse cx="639.3" cy="115.0" rx="1.0" ry="1.85" fill="#f42020"/>
<ellipse cx="640.0" cy="117.1" rx="1.0" ry="1.85" fill="#f42020"/>
<ellipse cx="640.7" cy="119.2" rx="1.0" ry="1.85" fill="#f42020"/>
<ellipse cx="641.4" cy="121.3" rx="1.0" ry="1.85" fill="#f42020"/>
<ellipse cx="642.0" cy="123.0" rx="1.0" ry="1.85" fill="#f42020"/>
<ellipse cx="638.3" cy="111.8" rx="1.0" ry="1.85" fill="#f42020"/>
<ellipse cx="639.8" cy="116.2" rx="1.0" ry="1.85" fill="#f42020"/>
<ellipse cx="641.2" cy="120.4" rx="1.0" ry="1.85" fill="#f42020"/>
<polyline points="574.6,63.4 577.3,65.2 579.7,67.5 581.4,71.6 581.9,75.4" fill="none" stroke="#f42020" stroke-width="2.2" stroke-linecap="round" stroke-linejoin="round"/>
<polyline points="583.4,73.4 585.6,78.3 587.2,81.4 589.5,85.1" fill="none" stroke="#f42020" stroke-width="2.2" stroke-linecap="round" stroke-linejoin="round"/>
<polyline points="609.5,92.4 611,97 612.2,100.8 614.3,106.3 616.7,111.0" fill="none" stroke="#f42020" stroke-width="2.2" stroke-linecap="round" stroke-linejoin="round"/>
<polyline points="637.9,110.8 642.0,123.0" fill="none" stroke="#f42020" stroke-width="2.2" stroke-linecap="round" stroke-linejoin="round"/>
<rect x="352.9" y="14.8" width="3.2" height="3.2" fill="#000"/><rect x="352.9" y="22.5" width="3.2" height="3.3" fill="#000"/>
<rect x="98.9" y="15.4" width="32.50" height="19.00" fill="#fff" stroke="#8a8a8a" stroke-width="0.9"/>
<ellipse cx="105.50" cy="20.40" rx="1.0" ry="1.6" fill="#0a0"/>
<ellipse cx="105.50" cy="29.20" rx="1.0" ry="1.6" fill="#f33"/>
<text x="111.60" y="22.50" textLength="11.2" lengthAdjust="spacingAndGlyphs" font-family="Liberation Sans, sans-serif" font-size="6" fill="#222" stroke="#222" stroke-width="0.22">true PF</text>
<text x="111.60" y="31.30" textLength="18.4" lengthAdjust="spacingAndGlyphs" font-family="Liberation Sans, sans-serif" font-size="6" fill="#222" stroke="#222" stroke-width="0.22">obtained PF</text>
<rect x="234.3" y="15.9" width="32.30" height="19.30" fill="#fff" stroke="#8a8a8a" stroke-width="0.9"/>
<ellipse cx="241.20" cy="20.90" rx="1.0" ry="1.6" fill="#0a0"/>
<ellipse cx="241.20" cy="29.70" rx="1.0" ry="1.6" fill="#f33"/>
<text x="246.60" y="23.00" textLength="11.2" lengthAdjust="spacingAndGlyphs" font-family="Liberation Sans, sans-serif" font-size="6" fill="#222" stroke="#222" stroke-width="0.22">true PF</text>
<text x="246.60" y="31.80" textLength="18.4" lengthAdjust="spacingAndGlyphs" font-family="Liberation Sans, sans-serif" font-size="6" fill="#222" stroke="#222" stroke-width="0.22">obtained PF</text>
<rect x="370.3" y="15.6" width="32.50" height="19.00" fill="#fff" stroke="#8a8a8a" stroke-width="0.9"/>
<ellipse cx="377.20" cy="20.60" rx="1.0" ry="1.6" fill="#0a0"/>
<ellipse cx="377.20" cy="29.40" rx="1.0" ry="1.6" fill="#f33"/>
<text x="382.90" y="22.70" textLength="11.2" lengthAdjust="spacingAndGlyphs" font-family="Liberation Sans, sans-serif" font-size="6" fill="#222" stroke="#222" stroke-width="0.22">true PF</text>
<text x="382.90" y="31.50" textLength="18.4" lengthAdjust="spacingAndGlyphs" font-family="Liberation Sans, sans-serif" font-size="6" fill="#222" stroke="#222" stroke-width="0.22">obtained PF</text>
<rect x="505.6" y="15.4" width="33.20" height="19.20" fill="#fff" stroke="#8a8a8a" stroke-width="0.9"/>
<ellipse cx="512.70" cy="20.40" rx="1.0" ry="1.6" fill="#0a0"/>
<ellipse cx="512.70" cy="29.20" rx="1.0" ry="1.6" fill="#f33"/>
<text x="518.90" y="22.50" textLength="11.2" lengthAdjust="spacingAndGlyphs" font-family="Liberation Sans, sans-serif" font-size="6" fill="#222" stroke="#222" stroke-width="0.22">true PF</text>
<text x="518.90" y="31.30" textLength="18.4" lengthAdjust="spacingAndGlyphs" font-family="Liberation Sans, sans-serif" font-size="6" fill="#222" stroke="#222" stroke-width="0.22">obtained PF</text>
<rect x="642.1" y="14.6" width="33.00" height="19.80" fill="#fff" stroke="#8a8a8a" stroke-width="0.9"/>
<ellipse cx="648.70" cy="19.60" rx="1.0" ry="1.6" fill="#0a0"/>
<ellipse cx="648.70" cy="28.40" rx="1.0" ry="1.6" fill="#f33"/>
<text x="654.60" y="21.70" textLength="11.2" lengthAdjust="spacingAndGlyphs" font-family="Liberation Sans, sans-serif" font-size="6" fill="#222" stroke="#222" stroke-width="0.22">true PF</text>
<text x="654.60" y="30.50" textLength="18.4" lengthAdjust="spacingAndGlyphs" font-family="Liberation Sans, sans-serif" font-size="6" fill="#222" stroke="#222" stroke-width="0.22">obtained PF</text>
<text x="73.5" y="228.7" font-family="Liberation Serif, serif" font-size="18" text-anchor="middle" fill="#000">(a)</text>
<text x="209.2" y="232.6" font-family="Liberation Serif, serif" font-size="18" text-anchor="middle" fill="#000">(b)</text>
<text x="347.4" y="232.6" font-family="Liberation Serif, serif" font-size="18" text-anchor="middle" fill="#000">(c)</text>
<text x="485.2" y="232.6" font-family="Liberation Serif, serif" font-size="18" text-anchor="middle" fill="#000">(d)</text>
<text x="615.9" y="230.8" font-family="Liberation Serif, serif" font-size="18" text-anchor="middle" fill="#000">(e)</text>
</svg></body></html>
